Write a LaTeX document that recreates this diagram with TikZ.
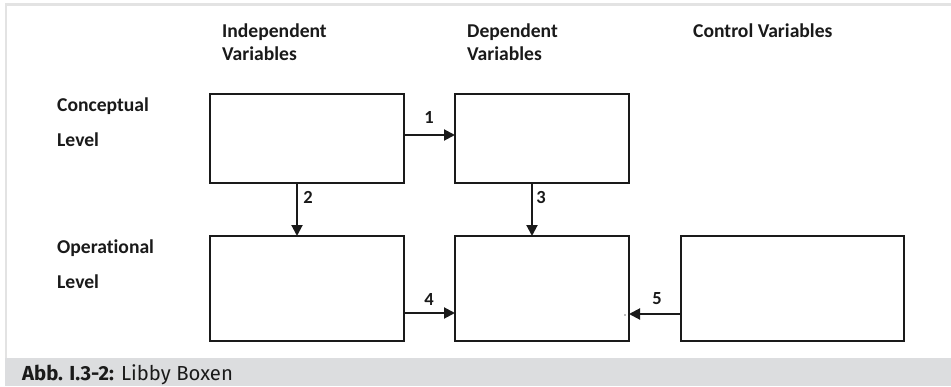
\documentclass[tikz,border=0pt]{standalone}
\usepackage{fontspec}
\setmainfont[Ligatures=NoCommon]{Carlito}
\newfontfamily\capfont{Fira Sans}
\usetikzlibrary{arrows.meta}
\definecolor{framegray}{HTML}{E3E3E3}
\definecolor{bargray}{HTML}{DCDDDF}
\definecolor{ink}{HTML}{1A1A1A}
\tikzset{
  box/.style={draw=ink, line width=2pt, fill=white, inner sep=0pt, outer sep=0pt},
  conn/.style={draw=ink, line width=2pt, -{Triangle[length=11pt,width=11pt]}},
  lbl/.style={font=\fontsize{19.6}{22}\selectfont\bfseries, text=ink, inner sep=0pt, anchor=base west},
  num/.style={font=\fontsize{18.5}{20}\selectfont\bfseries, text=ink, inner sep=0pt},
}
\begin{document}
\begin{tikzpicture}[x=1pt,y=-1pt]
\useasboundingbox (0,0) rectangle (951,386);
\fill[white] (0,0) rectangle (951,386);
% frame
\fill[framegray] (5,3) rectangle (951,5.7);
\fill[framegray] (5,3) rectangle (7.2,358);
\fill[bargray] (5,358) rectangle (951,386);
\node[font=\capfont\fontsize{20.3}{22}\selectfont, inner sep=0pt, anchor=base west, text=ink] (cap) at (22,380.5) {\textbf{Abb. I.3-2:} Libby Boxen};
% headings
\node[lbl] (h1a) at (222,37) {Independent};
\node[lbl] (h1b) at (222,60) {Variables};
\node[lbl] (h2a) at (467,37) {Dependent};
\node[lbl] (h2b) at (467,60) {Variables};
\node[lbl] (h3) at (693,37) {Control Variables};
\node[lbl] (r1a) at (57,111) {Conceptual};
\node[lbl] (r1b) at (57,146) {Level};
\node[lbl] (r2a) at (57,253) {Operational};
\node[lbl] (r2b) at (57,288) {Level};
% boxes
\node[box, minimum width=194pt, minimum height=89pt] (A) at (307,138.5) {};
\node[box, minimum width=174pt, minimum height=89pt] (B) at (542,138.5) {};
\node[box, minimum width=194pt, minimum height=105pt] (C) at (307,288.5) {};
\node[box, minimum width=174pt, minimum height=105pt] (D) at (542,288.5) {};
\node[box, minimum width=223pt, minimum height=105pt] (E) at (792.5,288.5) {};
% guide coordinates
\coordinate (y1) at (0,135);
\coordinate (y4) at (0,313);
\coordinate (y5) at (0,314);
\coordinate (x2) at (297,0);
\coordinate (x3) at (532,0);
\draw[conn] (A.east |- y1) -- (B.west |- y1);
\draw[conn] (x2 |- A.south) -- (x2 |- C.north);
\draw[conn] (x3 |- B.south) -- (x3 |- D.north);
\draw[conn] (C.east |- y4) -- (D.west |- y4);
\draw[conn] (E.west |- y5) -- (D.east |- y5);
\node[num] (n1) at (429,117) {1};
\node[num] (n2) at (308,197) {2};
\node[num] (n3) at (541,197) {3};
\node[num] (n4) at (429,299) {4};
\node[num] (n5) at (657,299) {5};
\fill[gray] (625,315) circle (0.8);
\end{tikzpicture}
\end{document}
